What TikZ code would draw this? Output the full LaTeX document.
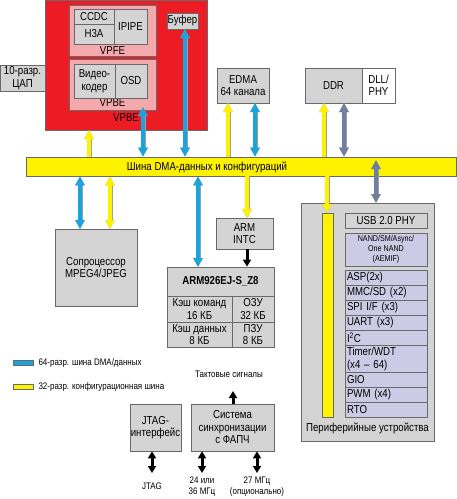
\documentclass[tikz,border=0pt]{standalone}
\usepackage{fontspec}
\setmainfont{Liberation Sans}[FakeStretch=0.84]
\usetikzlibrary{arrows.meta}
\definecolor{vpred}{RGB}{237,28,36}
\definecolor{vppink}{RGB}{244,170,172}
\definecolor{boxgray}{RGB}{212,212,212}
\definecolor{boxline}{RGB}{105,105,105}
\definecolor{busyellow}{RGB}{255,242,0}
\definecolor{dmablue}{RGB}{27,163,221}
\definecolor{ddrslate}{RGB}{112,128,160}
\definecolor{lilac}{RGB}{204,202,228}
\tikzset{
  blk/.style={draw=boxline, fill=boxgray, line width=0.7pt, inner sep=0pt, align=center},
  row/.style={blk, fill=lilac, inner xsep=2pt, inner ysep=0pt, text width=78pt, align=left},
  arr/.style={line width=4pt, >={Triangle[width=9pt,length=9pt]},
    preaction={draw=gray!75, line width=5pt}},
  blu/.style={arr, draw=dmablue},
  yel/.style={arr, draw=busyellow},
  slt/.style={arr, draw=ddrslate},
  ctl/.style={line width=3pt, draw=black, >={Triangle[width=8pt,length=7pt]}},
}
\begin{document}
\begin{tikzpicture}[x=1pt, y=-1pt, font=\fontsize{11.5}{12.5}\selectfont]
\useasboundingbox (0,0) rectangle (457,499);
% video subsystem
\node(vpbe) at (126,65)[blk, fill=vpred, minimum width=162, minimum height=130]{};
\node(vpbelbl) at (126,118){VPBE};
\node(vpfe) at (112.5,30.5)[blk, fill=vppink, minimum width=87, minimum height=51]{};
\node(vpfelbl) at (112.5,51){VPFE};
\node(ccdc) at (94,16.5)[blk, minimum width=40, minimum height=15]{CCDC};
\node(h3a) at (94,34)[blk, minimum width=40, minimum height=20]{H3A};
\node(ipipe) at (130.5,26.5)[blk, minimum width=33, minimum height=35]{IPIPE};
\node(vpbein) at (112.5,84.5)[blk, fill=vppink, minimum width=87, minimum height=51]{};
\node(vpbeinlbl) at (112.5,103){VPBE};
\node(venc) at (94.5,81)[blk, minimum width=41, minimum height=34]{Видео-\\кодер};
\node(osd) at (131,81)[blk, minimum width=32, minimum height=34]{OSD};
\node(bufr) at (182.5,21)[blk, minimum width=31, minimum height=16]{Буфер};
\node(dac) at (22.5,78)[blk, minimum width=45, minimum height=26]{10-разр.\\ЦАП};
% bus and memories
\node(bus) at (241,166.5)[blk, fill=busyellow, minimum width=430, minimum height=19]{};
\node(buslbl) at (207,167){Шина DMA-данных и конфигураций};
\node(edma) at (243,85.5)[blk, minimum width=52, minimum height=35]{EDMA\\64 канала};
\node(ddr) at (333.5,85.5)[blk, minimum width=57, minimum height=35]{DDR};
\node(dll) at (378.5,85.5)[blk, fill=white, minimum width=33, minimum height=35]{DLL/\\PHY};
\node(copro) at (96,267.5)[blk, minimum width=82, minimum height=77]{Сопроцессор\\MPEG4/JPEG};
\node(intc) at (244.5,233.5)[blk, minimum width=57, minimum height=31]{ARM\\INTC};
\node(arm) at (220.5,281.5)[blk, minimum width=107, minimum height=29]{\bfseries ARM926EJ-S\_Z8};
\node(icache) at (199.5,309)[blk, minimum width=65, minimum height=26]{Кэш команд\\16 КБ};
\node(iram) at (253,309)[blk, minimum width=42, minimum height=26]{ОЗУ\\32 КБ};
\node(dcache) at (199.5,334.5)[blk, minimum width=65, minimum height=25]{Кэш данных\\8 КБ};
\node(irom) at (253,334.5)[blk, minimum width=42, minimum height=25]{ПЗУ\\8 КБ};
% peripherals
\node(periph) at (367.5,322)[blk, minimum width=133, minimum height=238]{};
\node(periphlbl) at (367.5,428){Периферийные устройства};
\node(ybar) at (327.5,315)[blk, fill=busyellow, minimum width=11, minimum height=204]{};
\node(usb) at (386,220.5)[blk, minimum width=82, minimum height=15]{USB 2.0 PHY};
\node(nand) at (386,249.5)[blk, fill=lilac, minimum width=82, minimum height=33, font=\fontsize{8.5}{10}\selectfont]{NAND/SM/Async/\\One NAND\\(AEMIF)};
\node(asp) at (386,278)[row, minimum height=15]{ASP(2x)};
\node(mmc) at (386,293)[row, minimum height=15]{MMC/SD (x2)};
\node(spi) at (386,308)[row, minimum height=15]{SPI I/F (x3)};
\node(uart) at (386,323)[row, minimum height=15]{UART (x3)};
\node(iic) at (386,338)[row, minimum height=15]{I\textsuperscript{2}C};
\node(timer) at (386,359)[row, minimum height=27]{Timer/WDT\\(x4 -- 64)};
\node(gio) at (386,380)[row, minimum height=15]{GIO};
\node(pwm) at (386,395)[row, minimum height=15]{PWM (x4)};
\node(rto) at (386,410)[row, minimum height=15]{RTO};
% legend
\node(legdma) at (23,362.5)[draw=boxline, line width=0.3pt, fill=dmablue, minimum width=20, minimum height=5, inner sep=0pt]{};
\node(legdmalbl) at (35,363)[anchor=west, font=\fontsize{9.5}{11}\selectfont]{64-разр. шина DMA/данных};
\node(legcfg) at (23,386.5)[draw=boxline, line width=0.3pt, fill=busyellow, minimum width=20, minimum height=5, inner sep=0pt]{};
\node(legcfglbl) at (35,387)[anchor=west, font=\fontsize{9.5}{11}\selectfont]{32-разр. конфигурационная шина};
% clocks and debug
\node(jtag) at (155.5,427.5)[blk, minimum width=51, minimum height=47]{JTAG-\\интерфейс};
\node(pll) at (232.5,427.5)[blk, minimum width=83, minimum height=47]{Система\\синхронизации\\с ФАПЧ};
\node(clk) at (229,374)[font=\fontsize{9.5}{11}\selectfont]{Тактовые сигналы};
\node(jtaglbl) at (152,486)[font=\fontsize{9.5}{11}\selectfont]{JTAG};
\node(osclbl) at (202,487)[font=\fontsize{9.5}{11}\selectfont, align=center]{24 или\\36 МГц};
\node(optlbl) at (257,487)[font=\fontsize{9.5}{11}\selectfont, align=center]{27 МГц\\(опционально)};
\coordinate(vpcfg) at (89,130);
\coordinate(vpdma) at (143,107);
\coordinate(bufdma) at (185,29);
\coordinate(edcfg) at (228,103);
\coordinate(eddma) at (255,103);
\coordinate(ddcfg) at (324,103);
\coordinate(dddma) at (344,103);
\coordinate(cpdma) at (80,229);
\coordinate(cpcfg) at (110,229);
\coordinate(armdma) at (198,267);
\coordinate(intccfg) at (247,218);
\coordinate(pecfg) at (327,213);
\coordinate(pedma) at (376,203);
\coordinate(pebus) at (376,160);
\coordinate(clkup) at (233,391);
\coordinate(jtagio) at (152,473);
\coordinate(oscin) at (202,473);
\coordinate(optin) at (257,473);
\path
  (vpcfg |- bus.north)    edge[yel, ->]    (vpcfg)
  (vpdma |- bus.north)    edge[blu, <->]   (vpdma)
  (bufdma |- bus.north)   edge[blu, <->]   (bufdma)
  (edcfg |- bus.north)    edge[yel, ->]    (edcfg)
  (eddma |- bus.north)    edge[blu, <->]   (eddma)
  (ddcfg |- bus.north)    edge[yel, ->]    (ddcfg)
  (dddma |- bus.north)    edge[slt, <->]   (dddma)
  (cpdma |- bus.south)    edge[blu, <->]   (cpdma)
  (cpcfg |- bus.south)    edge[yel, <->]   (cpcfg)
  (armdma |- bus.south)   edge[blu, <->]   (armdma)
  (intccfg |- bus.south)  edge[yel, ->]    (intccfg)
  (intccfg |- intc.south) edge[ctl, ->]    (intccfg |- arm.north)
  (pecfg |- bus.south)    edge[yel, ->]    (pecfg)
  (pebus)                 edge[slt, <->]   (pedma)
  (clkup |- pll.north)    edge[ctl, ->]    (clkup)
  (jtagio |- jtag.south)  edge[ctl, <->]   (jtagio)
  (oscin |- pll.south)    edge[ctl, <->]   (oscin)
  (optin |- pll.south)    edge[ctl, <->]   (optin);
\end{tikzpicture}
\end{document}
